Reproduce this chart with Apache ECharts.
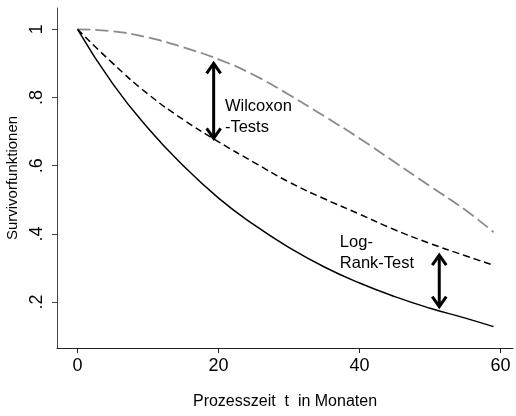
<!DOCTYPE html>
<html>
<head>
<meta charset="utf-8">
<script src="https://cdn.jsdelivr.net/npm/echarts@6/dist/echarts.min.js"></script>
<style>
  html, body { margin: 0; padding: 0; background: #fff; }
  #chart { width: 516px; height: 416px; }
</style>
</head>
<body>
<div id="chart"></div>
<script>
// Months since start of the process
const months = [0, 5, 10, 15, 20, 25, 30, 35, 40, 45, 50, 55, 59];

// Survivor functions of the three groups
const survSolid  = [1, 0.84, 0.71, 0.60, 0.505, 0.427, 0.36, 0.303, 0.256, 0.216, 0.182, 0.153, 0.128];
const survDashed = [1, 0.90, 0.81, 0.735, 0.67, 0.61, 0.552, 0.503, 0.458, 0.412, 0.372, 0.336, 0.308];
const survGrey   = [1, 0.994, 0.976, 0.947, 0.912, 0.866, 0.808, 0.745, 0.68, 0.61, 0.54, 0.47, 0.405];

// Axis ticks
const xTicks = [0, 20, 40, 60];
const yTicks = [0.2, 0.4, 0.6, 0.8, 1];

// Double arrows: [month, lower value, upper value]
const arrows = [
  [19.3, 0.68, 0.90],
  [51.3, 0.187, 0.338]
];

// Annotation texts: [month, value, text]
const notes = [
  [20.9, 0.743, 'Wilcoxon\n-Tests'],
  [37.2, 0.343, 'Log-\nRank-Test']
];

const FONT = 'Liberation Sans, Arial, Helvetica, sans-serif';
const pair = arr => months.map((m, i) => [m, arr[i]]);

const chart = echarts.init(document.getElementById('chart'), null, { renderer: 'canvas' });

chart.setOption({
  animation: false,
  backgroundColor: '#fff',
  grid: { left: 57, right: 3, top: 8, bottom: 68, containLabel: false, outerBoundsMode: 'none' },
  xAxis: {
    type: 'value',
    min: -2.92,
    max: 61.76,
    name: 'Prozesszeit  t  in Monaten',
    nameLocation: 'middle',
    nameGap: 46,
    nameTextStyle: { fontFamily: FONT, fontSize: 16, color: '#000' },
    axisLine: { show: true, onZero: false, lineStyle: { color: '#222', width: 1 } },
    axisTick: { show: true, length: 5, customValues: xTicks, lineStyle: { color: '#222' } },
    axisLabel: {
      customValues: xTicks,
      margin: 9,
      fontFamily: FONT, fontSize: 18, color: '#000'
    },
    splitLine: { show: false }
  },
  yAxis: {
    type: 'value',
    min: 0.0654,
    max: 1.0625,
    name: 'Survivorfunktionen',
    nameLocation: 'middle',
    nameRotate: 90,
    nameGap: 36,
    nameTextStyle: { fontFamily: FONT, fontSize: 15, color: '#000' },
    axisLine: { show: true, onZero: false, lineStyle: { color: '#444', width: 1 } },
    axisTick: { show: true, length: 5, customValues: yTicks, lineStyle: { color: '#444' } },
    axisLabel: {
      customValues: yTicks,
      rotate: 90,
      margin: 11,
      fontFamily: FONT, fontSize: 18, color: '#000',
      formatter: v => (v >= 1 ? '1' : ('' + Math.round(v * 10) / 10).replace(/^0/, ''))
    },
    splitLine: { show: false }
  },
  series: [
    {
      name: 'grey',
      type: 'line',
      data: pair(survGrey),
      smooth: true,
      showSymbol: false,
      lineStyle: { color: '#8a8a8a', width: 1.8, type: [13, 5] }
    },
    {
      name: 'dashed',
      type: 'line',
      data: pair(survDashed),
      smooth: true,
      showSymbol: false,
      lineStyle: { color: '#000', width: 1.5, type: [7, 4] }
    },
    {
      name: 'solid',
      type: 'line',
      data: pair(survSolid),
      smooth: true,
      showSymbol: false,
      lineStyle: { color: '#000', width: 1.5, type: 'solid' }
    },
    {
      name: 'arrows',
      type: 'custom',
      data: arrows,
      encode: { x: 0, y: [1, 2] },
      renderItem: (params, api) => {
        const x = api.value(0);
        const top = api.coord([x, api.value(2)]);
        const bot = api.coord([x, api.value(1)]);
        const hw = 7, hh = 10;
        const st = { stroke: '#000', lineWidth: 3, fill: null, lineJoin: 'miter', lineCap: 'butt' };
        return {
          type: 'group',
          children: [
            { type: 'line', shape: { x1: top[0], y1: top[1] + 1, x2: bot[0], y2: bot[1] - 1 }, style: st },
            { type: 'polyline', shape: { points: [[top[0] - hw, top[1] + hh], [top[0], top[1]], [top[0] + hw, top[1] + hh]] }, style: st },
            { type: 'polyline', shape: { points: [[bot[0] - hw, bot[1] - hh], [bot[0], bot[1]], [bot[0] + hw, bot[1] - hh]] }, style: st }
          ]
        };
      }
    },
    {
      name: 'notes',
      type: 'custom',
      data: notes,
      encode: { x: 0, y: 1 },
      renderItem: (params, api) => {
        const p = api.coord([api.value(0), api.value(1)]);
        return {
          type: 'text',
          x: p[0],
          y: p[1],
          style: {
            text: notes[params.dataIndex][2],
            fontFamily: FONT,
            fontSize: 16.5,
            lineHeight: 21,
            fill: '#000',
            align: 'left',
            verticalAlign: 'middle'
          }
        };
      }
    }
  ]
});
</script>
</body>
</html>
